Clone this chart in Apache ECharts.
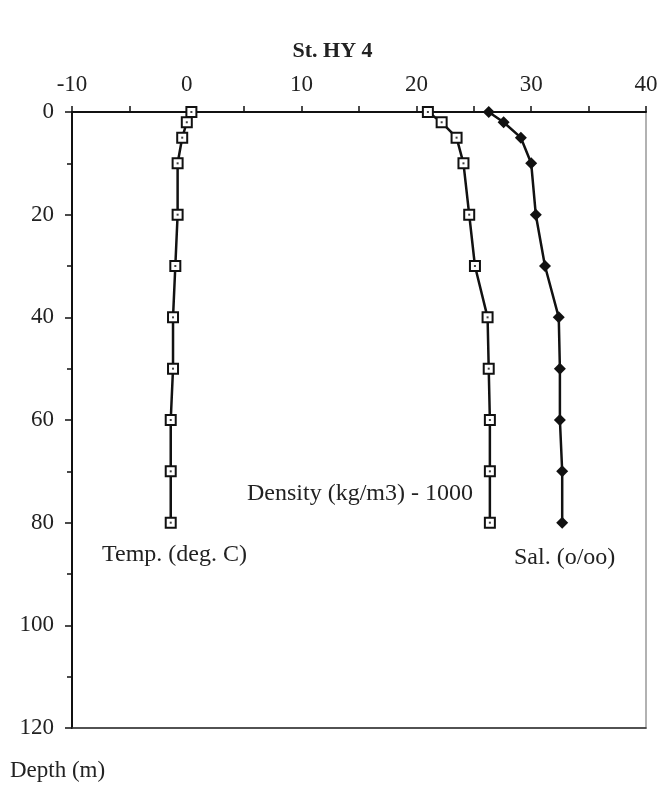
<!DOCTYPE html>
<html>
<head>
<meta charset="utf-8">
<title>St. HY 4</title>
<script src="https://cdn.jsdelivr.net/npm/echarts@6/dist/echarts.min.js"></script>
<style>
    html, body { margin: 0; padding: 0; background: #fff; }
    #profile_chart { width: 665px; height: 791px; }
</style>
</head>
<body>
<div id="profile_chart"></div>
<script>
// depth of each sample (m)
var depthList = [0, 2, 5, 10, 20, 30, 40, 50, 60, 70, 80];
// temperature (deg. C)
var tempList = [0.4, 0.0, -0.4, -0.8, -0.8, -1.0, -1.2, -1.2, -1.4, -1.4, -1.4];
// density (kg/m3) - 1000
var densList = [21.0, 22.2, 23.5, 24.1, 24.6, 25.1, 26.2, 26.3, 26.4, 26.4, 26.4];
// salinity (o/oo)
var salList = [26.3, 27.6, 29.1, 30.0, 30.4, 31.2, 32.4, 32.5, 32.5, 32.7, 32.7];
// tick labels
var xTicks = [-10, 0, 10, 20, 30, 40];
var yTicks = [0, 20, 40, 60, 80, 100, 120];

var serif = '"Liberation Serif", "DejaVu Serif", serif';

// pair every value with its depth
function pairs(list) {
    var out = [];
    for (var i = 0; i < list.length; i++) {
        out.push([list[i], depthList[i]]);
    }
    return out;
}

var myChart = echarts.init(document.getElementById('profile_chart'));

var openSquare = {
    type: 'line',
    symbol: 'rect',
    symbolSize: 10,
    lineStyle: { color: '#111', width: 2.5 },
    itemStyle: { color: '#fff', borderColor: '#111', borderWidth: 2 },
    z: 3
};
// small dot in the middle of every square
var dotStyle = {
    type: 'scatter',
    symbol: 'rect',
    symbolSize: 2,
    itemStyle: { color: '#111' },
    silent: true,
    z: 4
};

option = {
    animation: false,
    backgroundColor: '#fff',
    title: {
        text: 'St. HY 4',
        left: 'center',
        top: 35,
        textStyle: { fontFamily: serif, fontSize: 22, fontWeight: 'bold', color: '#222' }
    },
    grid: {
        left: 72,
        right: 19,
        top: 112,
        bottom: 63,
        show: true,
        borderColor: '#999',
        borderWidth: 1.5
    },
    xAxis: [
        {
            type: 'value',
            position: 'top',
            min: -10,
            max: 40,
            interval: 10,
            axisLine: { show: true, onZero: false, lineStyle: { color: '#111', width: 2 } },
            axisTick: { show: true, inside: false, length: 6, lineStyle: { color: '#111', width: 1.5 } },
            minorTick: { show: true, splitNumber: 2, length: 6, lineStyle: { color: '#111', width: 1.5 } },
            splitLine: { show: false },
            axisLabel: {
                margin: 16,
                color: '#222',
                fontFamily: serif,
                fontSize: 23,
                formatter: function (v) { return xTicks.indexOf(v) >= 0 ? String(v) : ''; }
            }
        },
        {
            type: 'value',
            position: 'bottom',
            min: -10,
            max: 40,
            axisLine: { show: true, onZero: false, lineStyle: { color: '#333', width: 1.5 } },
            axisTick: { show: false },
            axisLabel: { show: false },
            splitLine: { show: false }
        }
    ],
    yAxis: {
        type: 'value',
        inverse: true,
        min: 0,
        max: 120,
        interval: 20,
        axisLine: { show: true, onZero: false, lineStyle: { color: '#111', width: 2 } },
        axisTick: { show: true, inside: false, length: 7, lineStyle: { color: '#111', width: 1.5 } },
        minorTick: { show: true, splitNumber: 2, length: 5, lineStyle: { color: '#111', width: 1.5 } },
        splitLine: { show: false },
        axisLabel: {
            margin: 18,
            color: '#222',
            fontFamily: serif,
            fontSize: 23,
            formatter: function (v) { return yTicks.indexOf(v) >= 0 ? String(v) : ''; }
        }
    },
    graphic: [
        { type: 'text', left: 102, top: 543, style: { text: 'Temp. (deg. C)', font: '24px ' + serif, fill: '#222' } },
        { type: 'text', left: 247, top: 482, style: { text: 'Density (kg/m3) - 1000', font: '24px ' + serif, fill: '#222' } },
        { type: 'text', left: 514, top: 546, style: { text: 'Sal. (o/oo)', font: '24px ' + serif, fill: '#222' } },
        { type: 'text', left: 10, top: 759, style: { text: 'Depth (m)', font: '23px ' + serif, fill: '#222' } }
    ],
    series: [
        Object.assign({ name: 'Temp. (deg. C)', data: pairs(tempList) }, openSquare),
        Object.assign({ name: 'Temp dots', data: pairs(tempList) }, dotStyle),
        Object.assign({ name: 'Density (kg/m3) - 1000', data: pairs(densList) }, openSquare),
        Object.assign({ name: 'Density dots', data: pairs(densList) }, dotStyle),
        {
            name: 'Sal. (o/oo)',
            type: 'line',
            symbol: 'diamond',
            symbolSize: 12,
            lineStyle: { color: '#111', width: 2.5 },
            itemStyle: { color: '#111' },
            data: pairs(salList),
            z: 3
        }
    ]
};

myChart.setOption(option);
window.addEventListener("resize", function () {
    myChart.resize();
});
</script>
</body>
</html>
